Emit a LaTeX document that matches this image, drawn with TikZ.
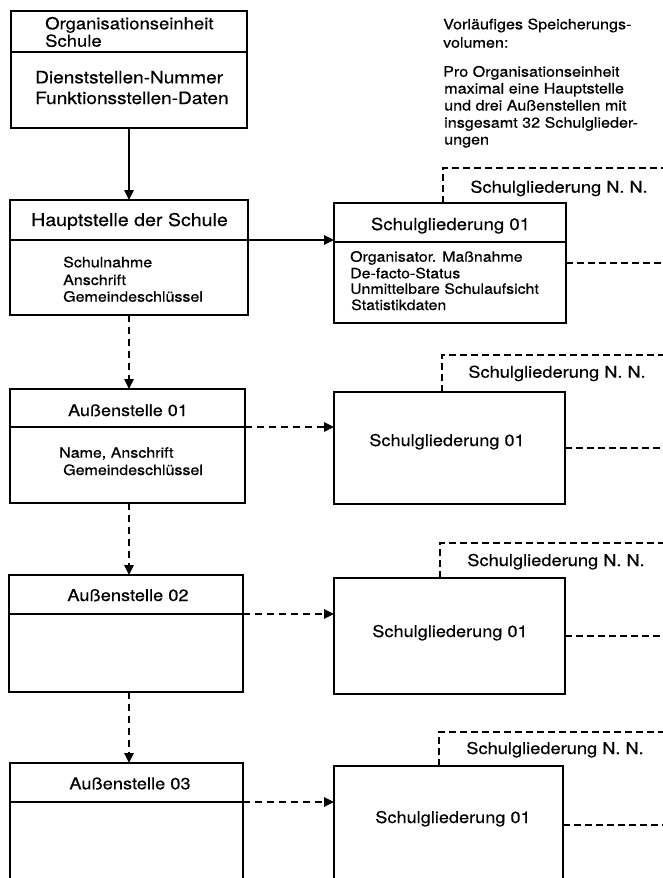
\documentclass[tikz,border=0pt]{standalone}
\usepackage{fontspec}
\setmainfont[FakeStretch=1.12,FakeBold=0.5]{TeX Gyre Heros}
\usetikzlibrary{arrows.meta}

\tikzset{
  frame/.style={draw, line width=2.5pt, inner sep=0pt, outer sep=0pt, anchor=north west},
  divider/.style={line width=1.3pt},
  flow/.style={line width=1.3pt, -{Triangle[length=10pt,width=9.5pt]}},
  dflow/.style={flow, dash pattern=on 7pt off 5pt},
  card/.style={line width=1.4pt, dash pattern=on 7pt off 4pt},
  title/.style={inner sep=0pt, anchor=base, font=\fontsize{#1}{20}\selectfont},
  title/.default=16.3,
  ltitle/.style={title=#1, anchor=base west},
  ltitle/.default=16.5,
  body/.style={inner sep=0pt, anchor=base west, font=\fontsize{#1}{17}\selectfont},
  body/.default=14.3,
}

\begin{document}
\begin{tikzpicture}[x=1pt,y=-1pt]
\useasboundingbox (0,0) rectangle (663,878);
\clip (0,0) rectangle (663,878);

% ---------- left column: organisational unit and its sites ----------
\node[frame, minimum width=236pt, minimum height=117pt] (org)   at (11,11)  {};
\node[frame, minimum width=238pt, minimum height=115pt] (haupt) at (10,200) {};
\node[frame, minimum width=235pt, minimum height=114pt] (as1)   at (10,389) {};
\node[frame, minimum width=234pt, minimum height=117pt] (as2)   at (9,575)  {};
\node[frame, minimum width=233pt, minimum height=125pt] (as3)   at (10,763) {};

\draw[divider] ([yshift=-41pt]org.north west) -- ([yshift=-41pt]org.north east);
\coordinate (hauptdiv) at ([yshift=-40pt]haupt.north east);
\coordinate (as1div)   at ([yshift=-38pt]as1.north east);
\coordinate (as2div)   at ([yshift=-39pt]as2.north east);
\coordinate (as3div)   at ([yshift=-39pt]as3.north east);
\draw[divider] ([yshift=-40pt]haupt.north west) -- (hauptdiv);
\draw[divider] ([yshift=-38pt]as1.north west) -- (as1div);
\draw[divider] ([yshift=-39pt]as2.north west) -- (as2div);
\draw[divider] ([yshift=-39pt]as3.north west) -- (as3div);

\node[ltitle] (orgt1) at (45,29.3) {Organisationseinheit};
\node[ltitle] (orgt2) at (45,46.7) {Schule};
\node[ltitle=17] (orgb1) at (35,83.3) {Dienststellen-Nummer};
\node[ltitle=17] (orgb2) at (35,104)  {Funktionsstellen-Daten};

\node[title=17.5] (hauptt) at (129.5,226) {Hauptstelle der Schule};
\node[body] (hauptb1) at (63,267.3) {Schulnahme};
\node[body] (hauptb2) at (63,285)   {Anschrift};
\node[body] (hauptb3) at (63,301.7) {Gemeindeschlüssel};

\node[title=16.1] (as1t) at (128,416) {Außenstelle 01};
\node[body] (as1b1) at (59,457.7) {Name, Anschrift};
\node[body] (as1b2) at (63,475)   {Gemeindeschlüssel};

\node[title] (as2t) at (128,601)   {Außenstelle 02};
\node[title] (as3t) at (130,789.3) {Außenstelle 03};

% vertical links between the sites
\draw[flow]  (org.south)   -- (org.south |- haupt.north);
\draw[dflow] (haupt.south) -- (haupt.south |- as1.north);
\draw[dflow] (as1.south -| haupt.south) -- (haupt.south |- as2.north);
\draw[dflow] (as2.south -| haupt.south) -- (haupt.south |- as3.north);

% ---------- right column: school branches ----------
\node[frame, minimum width=232pt, minimum height=120pt] (sg1) at (334,203) {};
\node[frame, minimum width=231pt, minimum height=112pt] (sg2) at (334,392) {};
\node[frame, minimum width=231pt, minimum height=116pt] (sg3) at (334,578) {};
\node[frame, minimum width=229pt, minimum height=118pt] (sg4) at (334,766) {};

\draw[divider] ([yshift=-39pt]sg1.north west) -- ([yshift=-39pt]sg1.north east);
\node[title=16.6] (sg1t) at (450.5,230) {Schulgliederung 01};
\node[body=14.2] (sg1b1) at (350,261.7) {Organisator. Maßnahme};
\node[body=14.2] (sg1b2) at (350,278.3) {De-facto-Status};
\node[body=14.2] (sg1b3) at (350,293.8) {Unmittelbare Schulaufsicht};
\node[body=14.2] (sg1b4) at (351,310)   {Statistikdaten};

\node[title=16.2] (sg2t) at (447,446) {Schulgliederung 01};
\node[title=16.2] (sg3t) at (450,637) {Schulgliederung 01};
\node[title=16.2] (sg4t) at (453,823) {Schulgliederung 01};

% horizontal links from the sites to their first branch
\draw[flow]  (hauptdiv) -- (hauptdiv -| sg1.west);
\draw[dflow] (as1div)   -- (as1div -| sg2.west);
\draw[dflow] (as2div)   -- (as2div -| sg3.west);
\draw[dflow] (as3div)   -- (as3div -| sg4.west);

% further branches, stacked behind as dashed cards
\coordinate (rim) at (680,0);
\coordinate (nn1) at (443,168);
\coordinate (nn2) at (442,355);
\coordinate (nn3) at (440,543);
\coordinate (nn4) at (439,732);
\draw[card] (nn1 |- sg1.north) -- (nn1) -- (nn1 -| rim);
\draw[card] (nn2 |- sg2.north) -- (nn2) -- (nn2 -| rim);
\draw[card] (nn3 |- sg3.north) -- (nn3) -- (nn3 -| rim);
\draw[card] (nn4 |- sg4.north) -- (nn4) -- (nn4 -| rim);
\draw[card] (sg1.east) -- (sg1.east -| rim);
\draw[card] (sg2.east) -- (sg2.east -| rim);
\draw[card] (sg3.east) -- (sg3.east -| rim);
\draw[card] (sg4.east) -- (sg4.east -| rim);

\node[title] (nn1t) at (559,192.7) {Schulgliederung N. N.};
\node[title] (nn2t) at (557,377.7) {Schulgliederung N. N.};
\node[title] (nn3t) at (556,566)   {Schulgliederung N. N.};
\node[title] (nn4t) at (555,754)   {Schulgliederung N. N.};

% ---------- note on storage volume ----------
\node[body=14.4] (note1) at (443,29.3)  {Vorläufiges Speicherungs-};
\node[body=14.4] (note2) at (443,47.7)  {volumen:};
\node[body=14.4] (note3) at (443,76.7)  {Pro Organisationseinheit};
\node[body=14.4] (note4) at (444,93.5)  {maximal eine Hauptstelle};
\node[body=14.4] (note5) at (444,110.5) {und drei Außenstellen mit};
\node[body=14.4] (note6) at (444,127.7) {insgesamt 32 Schulglieder-};
\node[body=14.4] (note7) at (444,144.5) {ungen};
\end{tikzpicture}
\end{document}
